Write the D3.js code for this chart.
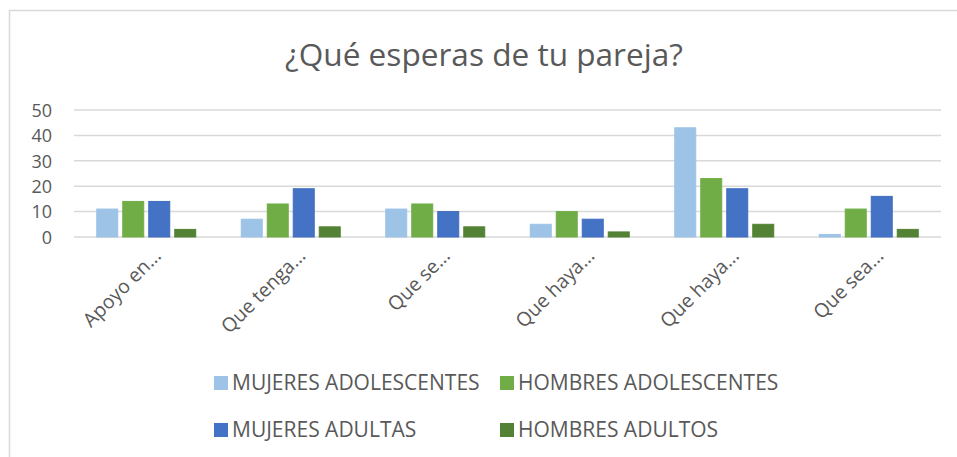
<!DOCTYPE html>
<html>
<head>
<meta charset="utf-8">
<script src="https://cdn.jsdelivr.net/npm/d3@7"></script>
<style>
  html, body { margin: 0; padding: 0; background: #fff; }
  svg { display: block; font-family: "Open Sans", sans-serif; }
</style>
</head>
<body>
<svg id="chart" width="957" height="457"></svg>
<script>
// Survey: what each group expects from a partner
const categories = ["Apoyo en…", "Que tenga…", "Que se…", "Que haya…", "Que haya…", "Que sea…"];
const seriesNames = ["MUJERES ADOLESCENTES", "HOMBRES ADOLESCENTES", "MUJERES ADULTAS", "HOMBRES ADULTOS"];
const mujeresAdolescentes = [11, 7, 11, 5, 43, 1];
const hombresAdolescentes = [14, 13, 13, 10, 23, 11];
const mujeresAdultas = [14, 19, 10, 7, 19, 16];
const hombresAdultos = [3, 4, 4, 2, 5, 3];
const yTicks = [0, 10, 20, 30, 40, 50];
const colors = ["#9DC3E6", "#70AD47", "#4472C4", "#548235"];
const strokes = ["#9DC3E6", "#70AD47", "#3F6DBF", "#548235"];
const title = "¿Qué esperas de tu pareja?";

const seriesValues = [mujeresAdolescentes, hombresAdolescentes, mujeresAdultas, hombresAdultos];

const svg = d3.select("#chart");
const textColor = "#595959";

// chart frame
svg.append("rect").attr("x", 0).attr("y", 0).attr("width", 957).attr("height", 457).attr("fill", "#fff");
svg.append("rect")
  .attr("x", 9.5).attr("y", 10.5).attr("width", 1000).attr("height", 1000)
  .attr("fill", "none").attr("stroke", "#d9d9d9").attr("stroke-width", 1.5);

// title, sized to a fixed width
const t = svg.append("text")
  .attr("x", 484).attr("y", 66)
  .attr("text-anchor", "middle")
  .attr("fill", textColor)
  .attr("font-size", 28)
  .text(title);
{
  const w = t.node().getComputedTextLength();
  t.attr("font-size", 28 * 398 / w);
}

const plot = { left: 74, right: 941, top: 110, bottom: 237 };

const y = d3.scaleLinear().domain([0, 50]).range([plot.bottom, plot.top]);
const x0 = d3.scaleBand().domain(d3.range(categories.length)).range([plot.left, plot.right]).padding(0);
const x1 = d3.scaleBand().domain(d3.range(seriesNames.length)).range([0, x0.bandwidth()])
  .paddingInner(0.154).paddingOuter(0.856);

// gridlines
svg.append("g").selectAll("line").data(yTicks).join("line")
  .attr("x1", plot.left).attr("x2", plot.right)
  .attr("y1", d => y(d)).attr("y2", d => y(d))
  .attr("stroke", "#d9d9d9").attr("stroke-width", 1.5);

// y axis labels
const yAxis = d3.axisLeft(y).tickValues(yTicks).tickSize(0).tickPadding(0);
const yg = svg.append("g").attr("transform", `translate(52,0)`).call(yAxis);
yg.select(".domain").remove();
yg.selectAll("text").attr("fill", textColor).attr("font-size", 18)
  .attr("font-family", "'Open Sans', sans-serif").attr("dy", "0.35em");

// bars
const groups = svg.append("g").selectAll("g").data(categories).join("g")
  .attr("transform", (d, i) => `translate(${x0(i)},0)`);
groups.selectAll("rect")
  .data((d, i) => seriesValues.map((vals, s) => ({ s, v: vals[i] })))
  .join("rect")
  .attr("x", d => x1(d.s) + 0.5)
  .attr("width", x1.bandwidth() - 1)
  .attr("y", d => y(d.v))
  .attr("height", d => y(0) - y(d.v))
  .attr("fill", d => colors[d.s])
  .attr("stroke", d => strokes[d.s])
  .attr("stroke-width", 1);

// category labels (rotated)
svg.append("g").selectAll("text").data(categories).join("text")
  .attr("transform", (d, i) => `translate(${x0(i) + x0.bandwidth() / 2 + 16},${plot.bottom + 20}) rotate(-45)`)
  .attr("text-anchor", "end")
  .attr("fill", textColor)
  .attr("font-size", 19.5)
  .text(d => d);

// legend
const legendPos = [
  { x: 214, y: 383 }, { x: 500, y: 383 },
  { x: 214, y: 430 }, { x: 500, y: 430 }
];
const lg = svg.append("g").selectAll("g").data(seriesNames).join("g")
  .attr("transform", (d, i) => `translate(${legendPos[i].x},${legendPos[i].y})`);
lg.append("rect").attr("x", 0).attr("y", -7).attr("width", 14).attr("height", 14)
  .attr("fill", (d, i) => colors[i]);
const lt = lg.append("text").attr("x", 18).attr("y", 0).attr("dy", "0.35em")
  .attr("fill", textColor).attr("font-size", 17)
  .text(d => d);
{
  const w = lt.nodes()[0].getComputedTextLength();
  lt.attr("font-size", Math.min(21, 17 * 250 / w));
}
</script>
</body>
</html>
